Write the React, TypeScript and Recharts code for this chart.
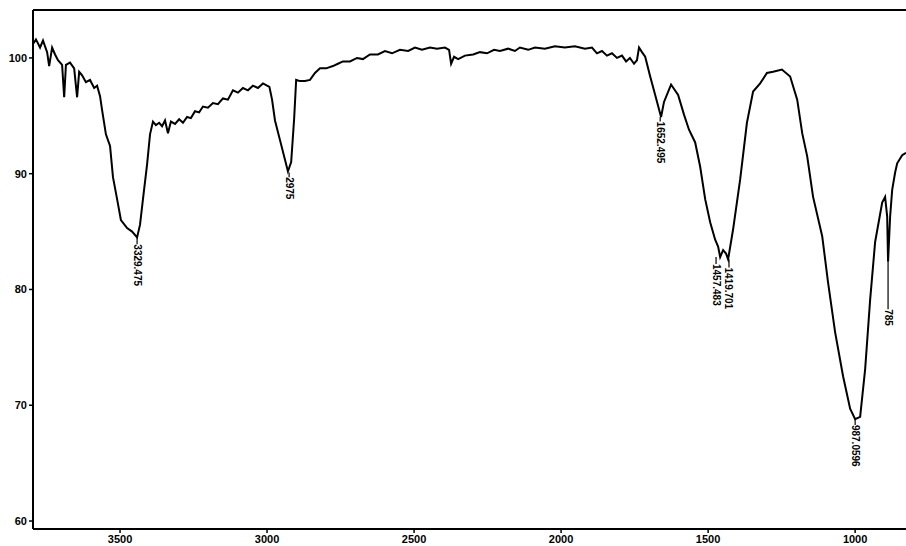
import { LineChart, Line, XAxis, YAxis, ReferenceDot, ReferenceLine } from 'recharts';

// wavenumber (cm-1), high to low
const WAVENUMBER = [
  3796, 3786, 3772, 3762, 3748, 3741, 3731, 3721, 3711, 3697, 3690, 3684, 3670, 3656, 3646, 3639,
  3629, 3616, 3602, 3588, 3578, 3568, 3561, 3548, 3534, 3524, 3510, 3497, 3476, 3459, 3442, 3432,
  3422, 3408, 3398, 3388, 3378, 3367, 3357, 3347, 3337, 3327, 3313, 3299, 3286, 3272, 3259, 3245,
  3231, 3218, 3201, 3184, 3167, 3150, 3133, 3116, 3099, 3082, 3065, 3048, 3031, 3014, 3000, 2992,
  2983, 2973, 2956, 2939, 2929, 2918, 2908, 2901, 2888, 2871, 2854, 2837, 2820, 2799, 2776, 2759,
  2742, 2718, 2694, 2674, 2650, 2623, 2599, 2575, 2548, 2520, 2497, 2473, 2446, 2422, 2395, 2381,
  2374, 2364, 2350, 2327, 2299, 2276, 2252, 2228, 2208, 2180, 2157, 2140, 2112, 2089, 2055, 2021,
  1987, 1953, 1919, 1895, 1878, 1861, 1844, 1827, 1810, 1793, 1779, 1766, 1752, 1742, 1735, 1725,
  1714, 1697, 1680, 1660, 1650, 1626, 1602, 1582, 1565, 1544, 1527, 1510, 1493, 1476, 1466, 1459,
  1449, 1439, 1432, 1415, 1391, 1368, 1347, 1323, 1300, 1279, 1249, 1221, 1197, 1180, 1163, 1143,
  1112, 1092, 1068, 1041, 1017, 1000, 983, 966, 949, 932, 908, 898, 891, 888, 881, 874,
  864, 857, 840, 827,
];

// %T at each wavenumber
const TRANSMITTANCE = [
  101.2, 101.6, 100.9, 101.5, 100.5, 99.3, 100.9, 100.3, 99.8, 99.4, 96.6, 99.4, 99.6, 99.1, 96.6, 98.8,
  98.5, 97.9, 98.1, 97.4, 97.6, 96.7, 95.5, 93.4, 92.4, 89.7, 87.8, 86.0, 85.3, 85.0, 84.5, 85.6,
  87.8, 90.8, 93.4, 94.5, 94.2, 94.4, 94.1, 94.6, 93.5, 94.5, 94.3, 94.7, 94.4, 94.9, 94.8, 95.4,
  95.3, 95.8, 95.7, 96.1, 96.0, 96.5, 96.4, 97.2, 97.0, 97.4, 97.2, 97.6, 97.4, 97.8, 97.6, 97.5,
  96.4, 94.6, 92.9, 91.2, 90.2, 91.0, 94.7, 98.1, 98.0, 98.0, 98.1, 98.7, 99.1, 99.1, 99.3, 99.5,
  99.7, 99.7, 100.0, 99.9, 100.3, 100.3, 100.6, 100.4, 100.7, 100.6, 100.9, 100.7, 100.9, 100.8, 100.9, 100.7,
  99.5, 100.1, 99.9, 100.2, 100.3, 100.5, 100.4, 100.7, 100.6, 100.8, 100.6, 100.9, 100.7, 100.9, 100.8, 101.0,
  100.9, 101.0, 100.8, 100.9, 100.4, 100.6, 100.2, 100.4, 100.0, 100.2, 99.7, 100.0, 99.5, 99.8, 100.9, 100.5,
  100.1, 98.4, 96.8, 94.9, 96.2, 97.7, 96.8, 95.1, 93.8, 92.7, 90.6, 87.8, 85.8, 84.3, 83.7, 82.8,
  83.4, 83.1, 82.6, 85.2, 89.5, 94.4, 97.1, 97.8, 98.7, 98.8, 99.0, 98.4, 96.4, 93.5, 91.5, 88.0,
  84.6, 80.6, 76.3, 72.5, 69.7, 68.8, 69.0, 73.1, 79.1, 84.1, 87.5, 88.0, 86.3, 82.4, 86.3, 88.6,
  90.1, 90.9, 91.6, 91.8,
];

const X_TICKS = [3500, 3000, 2500, 2000, 1500, 1000];
const Y_TICKS = [60, 70, 80, 90, 100];

// peak labels: text, wavenumber, depth of the dip, where the text starts
const PEAK_TEXT = ['3329.475', '2975', '1652.495', '1457.483', '1419.701', '987.0596', '785'];
const PEAK_WN = [3442, 2925, 1663, 1473, 1429, 1000, 888];
const PEAK_DIP = [84.5, 90.1, 94.9, 82.8, 82.6, 68.8, 82.4];
const PEAK_TEXT_AT = [83.9, 89.7, 94.5, 82.2, 81.9, 68.3, 78.3];

const X_MIN = 827;
const X_MAX = 3796;
const Y_MIN = 59.31;
const Y_MAX = 104.14;

const data = WAVENUMBER.map((wn, i) => ({ wn, t: TRANSMITTANCE[i] }));

const tickStyle = { fill: '#000', fontSize: 11, fontWeight: 700, fontFamily: 'Liberation Sans, Arial, sans-serif' };

function PeakText(props: any) {
  const { cx, cy, text } = props;
  if (cx == null || cy == null) return null;
  return (
    <text
      transform={`translate(${cx},${cy}) rotate(90)`}
      x={0}
      y={0}
      dominantBaseline="central"
      textAnchor="start"
      fill="#000"
      fontSize={10}
      fontWeight={700}
      fontFamily="Liberation Sans, Arial, sans-serif"
    >
      {text}
    </text>
  );
}

export default function App() {
  return (
    <div style={{ position: 'absolute', left: 0, top: 0, background: '#fff' }}>
      <LineChart width={906} height={546} data={data} margin={{ top: 10, right: 0, left: 0, bottom: 0 }}>
        <XAxis
          dataKey="wn"
          type="number"
          domain={[X_MIN, X_MAX]}
          reversed
          ticks={X_TICKS}
          height={17}
          tick={tickStyle}
          tickSize={4}
          stroke="#000"
          axisLine={{ stroke: '#000', strokeWidth: 2 }}
          tickLine={{ stroke: '#000', strokeWidth: 1.5 }}
          allowDataOverflow
        />
        <YAxis
          type="number"
          domain={[Y_MIN, Y_MAX]}
          ticks={Y_TICKS}
          width={33}
          tick={tickStyle}
          tickSize={4}
          axisLine={{ stroke: '#000', strokeWidth: 2 }}
          tickLine={{ stroke: '#000', strokeWidth: 1.5 }}
          allowDataOverflow
        />
        {/* top frame line */}
        <ReferenceLine y={Y_MAX} stroke="#000" strokeWidth={2} ifOverflow="visible" />
        <Line
          type="linear"
          dataKey="t"
          stroke="#000"
          strokeWidth={2}
          dot={false}
          isAnimationActive={false}
        />
        {PEAK_TEXT.map((txt, i) => (
          <ReferenceLine
            key={`l-${txt}`}
            segment={[
              { x: PEAK_WN[i], y: PEAK_DIP[i] },
              { x: PEAK_WN[i], y: PEAK_TEXT_AT[i] },
            ]}
            stroke="#000"
            strokeWidth={1.2}
          />
        ))}
        {PEAK_TEXT.map((txt, i) => (
          <ReferenceDot
            key={`t-${txt}`}
            x={PEAK_WN[i]}
            y={PEAK_TEXT_AT[i]}
            r={0}
            shape={(p: any) => <PeakText {...p} text={txt} />}
          />
        ))}
      </LineChart>
    </div>
  );
}
